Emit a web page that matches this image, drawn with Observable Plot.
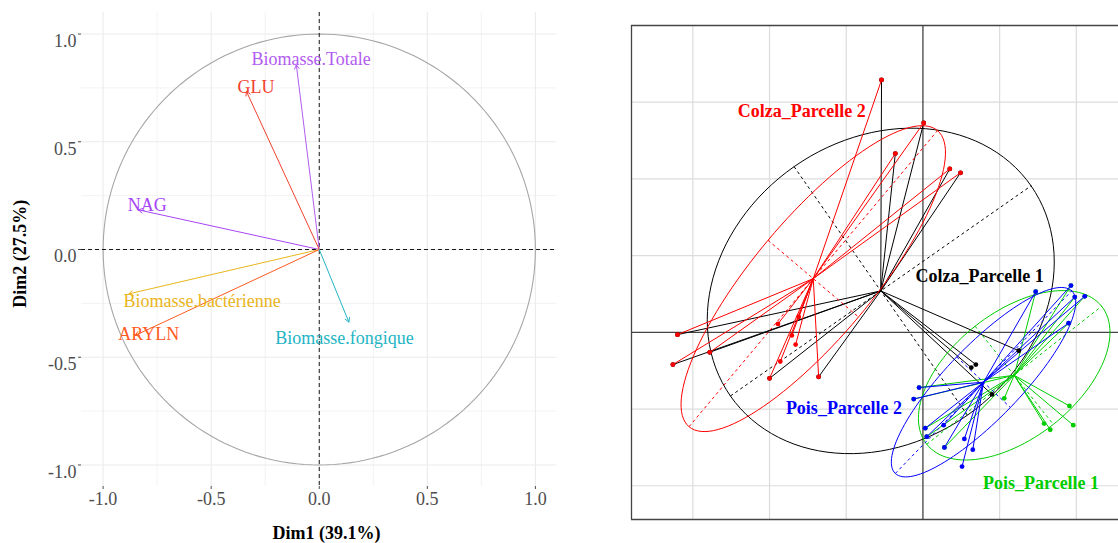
<!DOCTYPE html>
<html><head><meta charset="utf-8">
<script src="https://cdn.jsdelivr.net/npm/d3@7"></script>
<script src="https://cdn.jsdelivr.net/npm/@observablehq/plot@0.6"></script>
<style>
html,body{margin:0;padding:0;background:#fff;overflow:hidden;width:1118px;height:543px;}
#left{position:absolute;left:0;top:0;}
#right{position:absolute;left:620px;top:0;}
</style></head><body>
<div id="left"></div><div id="right"></div>
<script>
// ---------- Left panel: variables correlation circle ----------
const varNames = ["Biomasse.Totale","GLU","NAG","Biomasse.bactérienne","ARYLN","Biomasse.fongique"];
const varDim1 = [-0.106,-0.337,-0.836,-0.881,-0.852,0.137];
const varDim2 = [0.857,0.734,0.184,-0.206,-0.399,-0.337];
const varLabelX = [-0.038,-0.293,-0.796,-0.542,-0.789,0.117];
const varLabelY = [0.882,0.753,0.204,-0.240,-0.391,-0.410];
const varColors = ["#B35CF0","#F2402E","#A745F5","#E9B51C","#FF5A1F","#22B4C4"];
const axisTicks = [-1,-0.5,0,0.5,1];
const minorTicks = [-0.75,-0.25,0.25,0.75];
const xTitle = "Dim1 (39.1%)";
const yTitle = "Dim2 (27.5%)";

// ---------- Right panel: s.class groups ----------
const groupNames = ["Colza_Parcelle 1","Colza_Parcelle 2","Pois_Parcelle 1","Pois_Parcelle 2"];
const groupColors = ["#000000","#FF0000","#00CD00","#0000FF"];
const centroidX = [-0.55,-1.43,1.19,0.79];
const centroidY = [0.54,0.70,-0.56,-0.65];
const ellUx = [1.96,1.62,1.14,1.15];
const ellUy = [1.37,1.93,0.90,1.19];
const ellVx = [1.13,0.59,0.51,0.35];
const ellVy = [-1.62,-0.50,-0.64,-0.33];
const labelX = [0.74,-1.58,1.54,-1.03];
const labelY = [0.73,2.88,-1.97,-0.99];

const colza1X = [-0.54,0.01,-0.36,0.35,0.49,-3.20,-3.26,-2.78,-2.00,-1.36,0.63,0.69,1.25,0.90];
const colza1Y = [3.29,2.73,2.33,2.13,2.08,-0.03,-0.42,-0.26,-0.60,-0.58,-0.46,-0.42,-0.24,-0.81];
const colza2X = [-0.54,0.01,-0.36,0.35,0.49,-3.20,-3.26,-2.78,-1.89,-1.62,-1.71,-1.66,-1.86,-2.00,-1.36];
const colza2Y = [3.29,2.73,2.33,2.13,2.08,-0.03,-0.42,-0.26,0.11,0.20,-0.04,-0.16,-0.38,-0.60,-0.58];
const pois1X = [1.06,1.91,1.58,1.66,1.96,-0.05,-0.12,0.03,0.05,0.28,1.47,1.93,1.98,2.11,1.90];
const pois1Y = [-0.86,-0.96,-1.19,-1.27,-1.21,-0.72,-0.87,-1.25,-1.36,-1.50,0.53,0.61,0.46,0.47,0.12];
const pois2X = [-0.05,-0.12,0.03,0.27,0.05,0.28,0.54,0.65,0.51,1.47,1.93,1.98,2.11,1.90];
const pois2Y = [-0.72,-0.87,-1.25,-1.21,-1.36,-1.50,-1.39,-1.53,-1.75,0.53,0.61,0.46,0.47,0.12];
const groupPtsX = [colza1X,colza2X,pois1X,pois2X];
const groupPtsY = [colza1Y,colza2Y,pois1Y,pois2Y];
const gridXs = [-3,-2,-1,1,2];
const gridYs = [-2,-1,1,2,3];
const frameLeft = -3.8, frameTop = 4.0, frameBottom = -2.44, frameRight = 2.55;

const serif = "'Liberation Serif','Times New Roman',serif";

// ----- build left -----
const vars = varNames.map((n,i)=>({name:n,x:varDim1[i],y:varDim2[i],lx:varLabelX[i],ly:varLabelY[i],color:varColors[i]}));
const circle = d3.range(0,361,2).map(a=>({x:Math.cos(a*Math.PI/180), y:Math.sin(a*Math.PI/180)}));
const gridColor = "#EBEBEB";
const left = Plot.plot({
  width:600, height:543,
  marginLeft:81, marginRight:43.5, marginTop:12, marginBottom:57,
  x:{domain:[-1.1,1.1]}, y:{domain:[-1.1,1.1]},
  color:{type:"identity"},
  style:{fontFamily:serif, fontSize:"18px", background:"white", overflow:"visible"},
  marks:[
    Plot.gridX(minorTicks,{stroke:gridColor,strokeOpacity:1,strokeWidth:0.6}),
    Plot.gridY(minorTicks,{stroke:gridColor,strokeOpacity:1,strokeWidth:0.6}),
    Plot.gridX(axisTicks,{stroke:gridColor,strokeOpacity:1,strokeWidth:1.1}),
    Plot.gridY(axisTicks,{stroke:gridColor,strokeOpacity:1,strokeWidth:1.1}),
    Plot.axisX(axisTicks,{tickFormat:()=>"",tickSize:3,stroke:"#4D4D4D",label:null}),
    Plot.axisY(axisTicks,{tickFormat:()=>"",tickSize:3,stroke:"#4D4D4D",label:null}),
    Plot.text(axisTicks,{x:d=>d,text:d=>d.toFixed(1),frameAnchor:"bottom",dy:18,fill:"#4D4D4D",fontSize:18}),
    Plot.text(axisTicks,{y:d=>d,text:d=>d.toFixed(1),frameAnchor:"left",textAnchor:"end",dx:-5,dy:7,fill:"#4D4D4D",fontSize:18}),
    Plot.line(circle,{x:"x",y:"y",stroke:"#A6A6A6",strokeWidth:1.1}),
    Plot.ruleY([0],{stroke:"black",strokeDasharray:"4,3",strokeWidth:0.9}),
    Plot.ruleX([0],{stroke:"black",strokeDasharray:"4,3",strokeWidth:0.9}),
    Plot.arrow(vars,{x1:d=>0,y1:d=>0,x2:"x",y2:"y",stroke:d=>d.color,headLength:7,strokeWidth:1,bend:0}),
    Plot.text(vars,{x:"lx",y:"ly",text:"name",fill:d=>d.color,fontSize:18}),
    Plot.text([xTitle],{text:d=>d,x:d=>0.034,y:d=>-1.318,fontWeight:"bold",fill:"black",fontSize:18}),
    Plot.text([yTitle],{text:d=>d,x:d=>-1.382,y:d=>-0.02,rotate:-90,textAnchor:"middle",lineAnchor:"middle",fontWeight:"bold",fill:"black",fontSize:18})
  ]
});
document.getElementById("left").appendChild(left);

// ----- build right -----
const stars = [], dots = [], ellipses = [], ellAxes = [], labels = [];
groupNames.forEach((g,i)=>{
  const cx = centroidX[i], cy = centroidY[i], col = groupColors[i];
  groupPtsX[i].forEach((x,j)=>{
    const y = groupPtsY[i][j];
    stars.push({g:i,x1:cx,y1:cy,x2:x,y2:y,color:col});
    dots.push({g:i,x,y,color:col});
  });
  d3.range(0,361,3).forEach(a=>{
    const t = a*Math.PI/180;
    ellipses.push({g:i,x:cx+Math.cos(t)*ellUx[i]+Math.sin(t)*ellVx[i], y:cy+Math.cos(t)*ellUy[i]+Math.sin(t)*ellVy[i], color:col});
  });
  ellAxes.push({g:i,x1:cx-ellUx[i],y1:cy-ellUy[i],x2:cx+ellUx[i],y2:cy+ellUy[i],color:col});
  ellAxes.push({g:i,x1:cx-ellVx[i],y1:cy-ellVy[i],x2:cx+ellVx[i],y2:cy+ellVy[i],color:col});
  labels.push({g:i,x:labelX[i],y:labelY[i],name:g,color:col});
});
const groupMarks = [];
groupNames.forEach((g,i)=>{
  groupMarks.push(
    Plot.link(stars.filter(d=>d.g===i),{x1:"x1",y1:"y1",x2:"x2",y2:"y2",stroke:d=>d.color,strokeWidth:1}),
    Plot.line(ellipses.filter(d=>d.g===i),{x:"x",y:"y",stroke:d=>d.color,strokeWidth:1}),
    Plot.link(ellAxes.filter(d=>d.g===i),{x1:"x1",y1:"y1",x2:"x2",y2:"y2",stroke:d=>d.color,strokeWidth:1,strokeDasharray:"3,3"})
  );
});
groupNames.forEach((g,i)=>{
  groupMarks.push(Plot.dot(dots.filter(d=>d.g===i),{x:"x",y:"y",fill:d=>d.color,r:2.4,stroke:"none"}));
});
const right = Plot.plot({
  width:498, height:543,
  marginLeft:11, marginRight:0, marginTop:25, marginBottom:24,
  x:{domain:[frameLeft,frameRight],axis:null}, y:{domain:[frameBottom,frameTop],axis:null},
  color:{type:"identity"},
  style:{fontFamily:serif, fontSize:"18px", background:"white", overflow:"visible"},
  marks:[
    Plot.ruleX(gridXs,{stroke:"#DCDCDC",strokeWidth:1.2}),
    Plot.ruleY(gridYs,{stroke:"#DCDCDC",strokeWidth:1.2}),
    Plot.ruleX([0],{stroke:"#222",strokeWidth:1.1}),
    Plot.ruleY([0],{stroke:"#444",strokeWidth:1.3}),
    Plot.ruleX([frameLeft],{stroke:"#444",strokeWidth:1.3}),
    Plot.ruleY([frameTop,frameBottom],{stroke:"#444",strokeWidth:1.3}),
    ...groupMarks,
    Plot.text(labels,{x:"x",y:"y",text:"name",fill:d=>d.color,fontWeight:"bold",fontSize:18})
  ]
});
document.getElementById("right").appendChild(right);
</script>
</body></html>
